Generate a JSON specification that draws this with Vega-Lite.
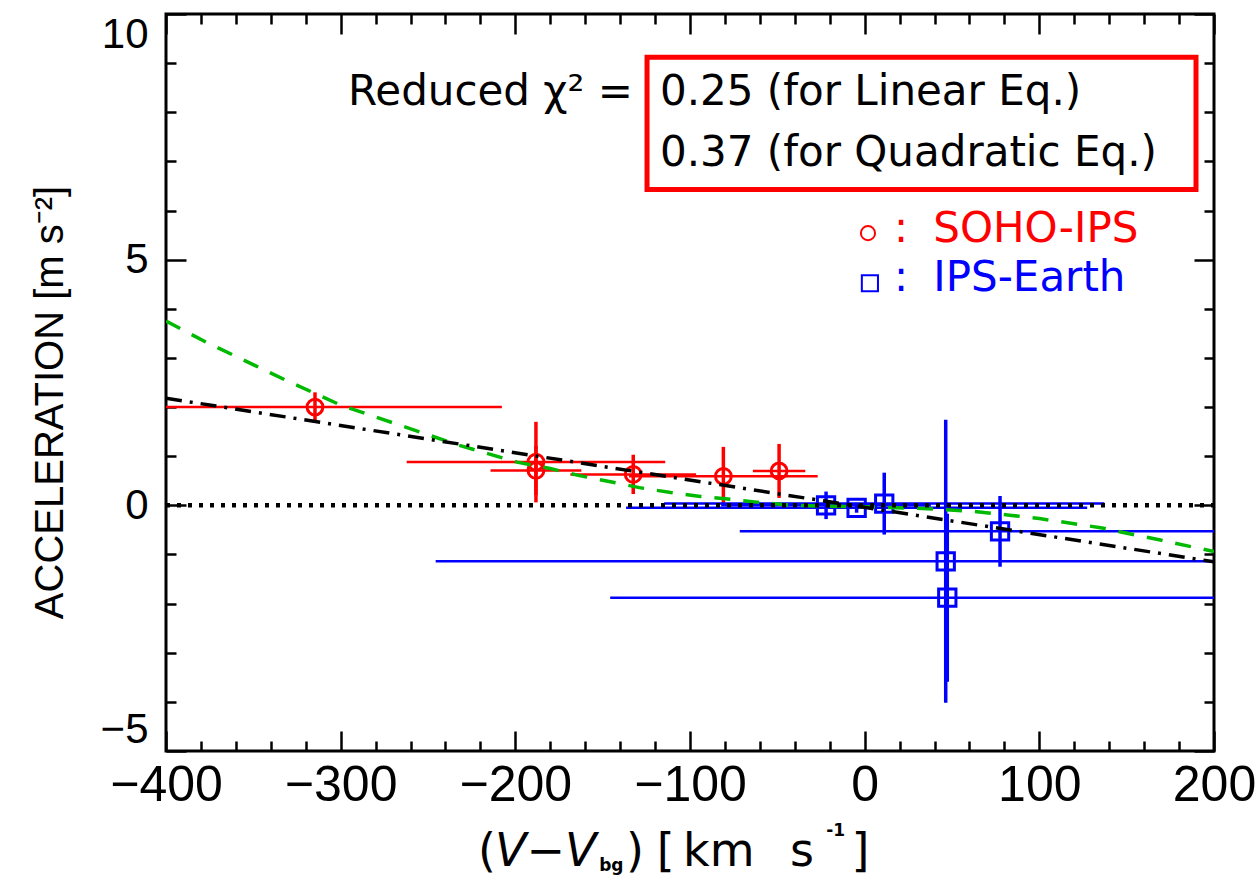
{
  "$schema": "https://vega.github.io/schema/vega-lite/v6.json",
  "width": 1048,
  "height": 737,
  "autosize": {"type": "none"},
  "padding": {"left": 166, "top": 14, "right": 42, "bottom": 127},
  "background": "white",
  "config": {
    "view": {"stroke": "black", "strokeWidth": 3},
    "axis": {"domain": false, "grid": false, "tickColor": "black", "tickWidth": 2.5, "labelColor": "black", "titleColor": "black"}
  },
  "datasets": {
    "soho": [
      {"x": -314.7, "y": 2.00, "xlo": -421.7, "xhi": -207.7, "ylo": 1.70, "yhi": 2.30},
      {"x": -188.2, "y": 0.88, "xlo": -262.2, "xhi": -114.2, "ylo": 0.06, "yhi": 1.70},
      {"x": -188.2, "y": 0.71, "xlo": -214.2, "xhi": -162.2, "ylo": 0.21, "yhi": 1.21},
      {"x": -132.5, "y": 0.63, "xlo": -168.5, "xhi": -96.5, "ylo": 0.23, "yhi": 1.03},
      {"x": -80.9, "y": 0.59, "xlo": -134.9, "xhi": -26.9, "ylo": -0.01, "yhi": 1.19},
      {"x": -49.0, "y": 0.70, "xlo": -64.0, "xhi": -34.0, "ylo": 0.15, "yhi": 1.25}
    ],
    "earth": [
      {"x": -22.1, "y": 0.00, "xlo": -82.1, "xhi": 37.9, "ylo": -0.28, "yhi": 0.28},
      {"x": -4.6, "y": -0.05, "xlo": -136.6, "xhi": 127.4, "ylo": -0.15, "yhi": 0.05},
      {"x": 11.2, "y": 0.035, "xlo": -114.8, "xhi": 137.2, "ylo": -0.595, "yhi": 0.665},
      {"x": 46.4, "y": -1.14, "xlo": -245.6, "xhi": 338.4, "ylo": -4.02, "yhi": 1.74},
      {"x": 47.3, "y": -1.88, "xlo": -145.7, "xhi": 240.3, "ylo": -3.59, "yhi": -0.17},
      {"x": 77.5, "y": -0.53, "xlo": -71.5, "xhi": 226.5, "ylo": -1.25, "yhi": 0.19}
    ],
    "zero": [{"x": -400, "y": 0}, {"x": 200, "y": 0}],
    "linear": [{"x": -400, "y": 2.18}, {"x": 200, "y": -1.15}],
    "quad": [
      {"x": -400, "y": 3.75}, {"x": -377, "y": 3.32}, {"x": -331, "y": 2.54}, {"x": -300, "y": 2.04},
      {"x": -266, "y": 1.63}, {"x": -232, "y": 1.22}, {"x": -199, "y": 0.88}, {"x": -180, "y": 0.75},
      {"x": -164, "y": 0.61}, {"x": -147, "y": 0.49}, {"x": -129, "y": 0.36}, {"x": -111, "y": 0.26},
      {"x": -94, "y": 0.18}, {"x": -76, "y": 0.12}, {"x": -59, "y": 0.055}, {"x": -42, "y": 0.0},
      {"x": -22, "y": -0.02}, {"x": 0, "y": -0.03}, {"x": 30, "y": -0.06}, {"x": 62, "y": -0.12},
      {"x": 83, "y": -0.2}, {"x": 100, "y": -0.27}, {"x": 119, "y": -0.37}, {"x": 136, "y": -0.46},
      {"x": 153, "y": -0.59}, {"x": 170, "y": -0.71}, {"x": 188, "y": -0.85}, {"x": 200, "y": -0.94}
    ],
    "box": [{"x1": -124.6, "x2": 189.7, "y1": 9.12, "y2": 6.43}],
    "annot": [
      {"x": -295.8, "y": 8.14, "t": "Reduced χ² ="},
      {"x": -117.2, "y": 8.14, "t": "0.25 (for Linear Eq.)"},
      {"x": -117.2, "y": 6.90, "t": "0.37 (for Quadratic Eq.)"}
    ],
    "legsoho": [{"x": 1.9, "y": 5.54, "cx": 20.8, "tx": 39.3, "ty": 5.36, "t": "SOHO-IPS"}],
    "legearth": [{"x": 3.0, "y": 4.52, "cx": 20.8, "tx": 39.3, "ty": 4.36, "t": "IPS-Earth"}],
    "xt_norm": [
      {"x": -221.4, "y": -7.35, "t": "("},
      {"x": -136.6, "y": -7.35, "t": ")"},
      {"x": -119.0, "y": -7.35, "t": "["},
      {"x": -104.0, "y": -7.35, "t": "km"},
      {"x": -42.7, "y": -7.35, "t": "s"},
      {"x": -7.5, "y": -7.35, "t": "]"}
    ],
    "xt_ital": [{"x": -211.6, "y": -7.35, "t": "V−V"}],
    "xt_small": [
      {"x": -152.0, "y": -7.45, "t": "bg"},
      {"x": -22.0, "y": -6.72, "t": "-1"}
    ]
  },
  "resolve": {"axis": {"x": "independent", "y": "independent"}},
  "layer": [
    {
      "data": {"name": "soho"},
      "mark": {"type": "rule", "color": "#ff0000", "strokeWidth": 2.5, "clip": true},
      "encoding": {
        "x": {"field": "xlo", "type": "quantitative", "scale": {"domain": [-400, 200], "nice": false, "zero": false}, "axis": null},
        "x2": {"field": "xhi"},
        "y": {"field": "y", "type": "quantitative", "scale": {"domain": [-5, 10], "nice": false, "zero": false}, "axis": null}
      }
    },
    {
      "data": {"name": "soho"},
      "mark": {"type": "rule", "color": "#ff0000", "strokeWidth": 3.5, "clip": true},
      "encoding": {
        "x": {"field": "x", "type": "quantitative", "axis": null},
        "y": {"field": "ylo", "type": "quantitative", "axis": null},
        "y2": {"field": "yhi"}
      }
    },
    {
      "data": {"name": "soho"},
      "mark": {"type": "point", "shape": "circle", "filled": false, "color": "#ff0000", "strokeWidth": 3, "size": 250, "opacity": 1, "clip": true},
      "encoding": {
        "x": {"field": "x", "type": "quantitative", "axis": null},
        "y": {"field": "y", "type": "quantitative", "axis": null}
      }
    },
    {
      "data": {"name": "earth"},
      "mark": {"type": "rule", "color": "#0000ff", "strokeWidth": 2.5, "clip": true},
      "encoding": {
        "x": {"field": "xlo", "type": "quantitative", "axis": null},
        "x2": {"field": "xhi"},
        "y": {"field": "y", "type": "quantitative", "axis": null}
      }
    },
    {
      "data": {"name": "earth"},
      "mark": {"type": "rule", "color": "#0000ff", "strokeWidth": 3.5, "clip": true},
      "encoding": {
        "x": {"field": "x", "type": "quantitative", "axis": null},
        "y": {"field": "ylo", "type": "quantitative", "axis": null},
        "y2": {"field": "yhi"}
      }
    },
    {
      "data": {"name": "earth"},
      "mark": {"type": "point", "shape": "square", "filled": false, "color": "#0000ff", "strokeWidth": 3, "size": 300, "opacity": 1, "clip": true},
      "encoding": {
        "x": {"field": "x", "type": "quantitative", "axis": null},
        "y": {"field": "y", "type": "quantitative", "axis": null}
      }
    },
    {
      "data": {"name": "quad"},
      "mark": {"type": "line", "color": "#00b900", "strokeWidth": 3.5, "strokeDash": [16, 13], "clip": true},
      "encoding": {
        "x": {"field": "x", "type": "quantitative", "axis": null},
        "y": {"field": "y", "type": "quantitative", "axis": null}
      }
    },
    {
      "data": {"name": "linear"},
      "mark": {"type": "line", "color": "black", "strokeWidth": 3.5, "strokeDash": [16, 8, 3, 8], "clip": true},
      "encoding": {
        "x": {"field": "x", "type": "quantitative",
          "axis": {"orient": "top", "title": null, "labels": false,
            "values": [-400,-380,-360,-340,-320,-300,-280,-260,-240,-220,-200,-180,-160,-140,-120,-100,-80,-60,-40,-20,0,20,40,60,80,100,120,140,160,180,200],
            "tickSize": {"condition": {"test": "datum.value % 100 === 0", "value": -20}, "value": -10}}},
        "y": {"field": "y", "type": "quantitative",
          "axis": {"orient": "right", "title": null, "labels": false,
            "values": [-5,-4,-3,-2,-1,0,1,2,3,4,5,6,7,8,9,10],
            "tickSize": {"condition": {"test": "datum.value % 5 === 0", "value": -20}, "value": -10}}}
      }
    },
    {
      "data": {"name": "zero"},
      "mark": {"type": "line", "color": "black", "strokeWidth": 4.5, "strokeDash": [4, 7], "clip": true},
      "encoding": {
        "x": {"field": "x", "type": "quantitative",
          "axis": {"orient": "bottom", "title": null,
            "values": [-400,-380,-360,-340,-320,-300,-280,-260,-240,-220,-200,-180,-160,-140,-120,-100,-80,-60,-40,-20,0,20,40,60,80,100,120,140,160,180,200],
            "tickSize": {"condition": {"test": "datum.value % 100 === 0", "value": -20}, "value": -10},
            "labelExpr": "datum.value % 100 === 0 ? datum.label : ''",
            "labelFont": "Liberation Sans", "labelFontSize": 50, "labelPadding": 29,
            "labelFlush": false, "labelOverlap": false, "labelBound": false}},
        "y": {"field": "y", "type": "quantitative",
          "axis": {"orient": "left",
            "values": [-5,-4,-3,-2,-1,0,1,2,3,4,5,6,7,8,9,10],
            "tickSize": {"condition": {"test": "datum.value % 5 === 0", "value": -20}, "value": -10},
            "labelExpr": "datum.value % 5 === 0 ? datum.label : ''",
            "labelFont": "Liberation Sans", "labelFontSize": 42, "labelPadding": 38,
            "labelFlush": true, "labelOverlap": false, "labelBound": false,
            "title": "ACCELERATION [m s⁻²]", "titleFont": "Liberation Sans", "titleFontSize": 40,
            "titleFontWeight": "normal", "titleAngle": -90, "titleX": -104, "titleY": 388,
            "titleAlign": "center", "titleBaseline": "alphabetic"}}
      }
    },
    {
      "data": {"name": "box"},
      "mark": {"type": "rect", "fill": null, "fillOpacity": 0, "stroke": "#ff0000", "strokeWidth": 5},
      "encoding": {
        "x": {"field": "x1", "type": "quantitative", "axis": null},
        "x2": {"field": "x2"},
        "y": {"field": "y1", "type": "quantitative", "axis": null},
        "y2": {"field": "y2"}
      }
    },
    {
      "data": {"name": "annot"},
      "mark": {"type": "text", "align": "left", "baseline": "alphabetic", "font": "DejaVu Sans", "fontSize": 42, "color": "black"},
      "encoding": {
        "x": {"field": "x", "type": "quantitative", "axis": null},
        "y": {"field": "y", "type": "quantitative", "axis": null},
        "text": {"field": "t"}
      }
    },
    {
      "data": {"name": "legsoho"},
      "mark": {"type": "point", "shape": "circle", "filled": false, "color": "#ff0000", "strokeWidth": 2, "size": 200, "opacity": 1},
      "encoding": {
        "x": {"field": "x", "type": "quantitative", "axis": null},
        "y": {"field": "y", "type": "quantitative", "axis": null}
      }
    },
    {
      "data": {"name": "legearth"},
      "mark": {"type": "point", "shape": "square", "filled": false, "color": "#0000ff", "strokeWidth": 2, "size": 260, "opacity": 1},
      "encoding": {
        "x": {"field": "x", "type": "quantitative", "axis": null},
        "y": {"field": "y", "type": "quantitative", "axis": null}
      }
    },
    {
      "data": {"name": "legsoho"},
      "mark": {"type": "text", "align": "center", "baseline": "alphabetic", "font": "DejaVu Sans", "fontSize": 42, "color": "#ff0000"},
      "encoding": {
        "x": {"field": "cx", "type": "quantitative", "axis": null},
        "y": {"field": "ty", "type": "quantitative", "axis": null},
        "text": {"value": ":"}
      }
    },
    {
      "data": {"name": "legsoho"},
      "mark": {"type": "text", "align": "left", "baseline": "alphabetic", "font": "DejaVu Sans", "fontSize": 42, "color": "#ff0000"},
      "encoding": {
        "x": {"field": "tx", "type": "quantitative", "axis": null},
        "y": {"field": "ty", "type": "quantitative", "axis": null},
        "text": {"field": "t"}
      }
    },
    {
      "data": {"name": "legearth"},
      "mark": {"type": "text", "align": "center", "baseline": "alphabetic", "font": "DejaVu Sans", "fontSize": 42, "color": "#0000ff"},
      "encoding": {
        "x": {"field": "cx", "type": "quantitative", "axis": null},
        "y": {"field": "ty", "type": "quantitative", "axis": null},
        "text": {"value": ":"}
      }
    },
    {
      "data": {"name": "legearth"},
      "mark": {"type": "text", "align": "left", "baseline": "alphabetic", "font": "DejaVu Sans", "fontSize": 42, "color": "#0000ff"},
      "encoding": {
        "x": {"field": "tx", "type": "quantitative", "axis": null},
        "y": {"field": "ty", "type": "quantitative", "axis": null},
        "text": {"field": "t"}
      }
    },
    {
      "data": {"name": "xt_norm"},
      "mark": {"type": "text", "align": "left", "baseline": "alphabetic", "font": "DejaVu Sans", "fontSize": 46, "color": "black"},
      "encoding": {
        "x": {"field": "x", "type": "quantitative", "axis": null},
        "y": {"field": "y", "type": "quantitative", "axis": null},
        "text": {"field": "t"}
      }
    },
    {
      "data": {"name": "xt_ital"},
      "mark": {"type": "text", "align": "left", "baseline": "alphabetic", "font": "DejaVu Sans", "fontSize": 46, "fontStyle": "italic", "color": "black"},
      "encoding": {
        "x": {"field": "x", "type": "quantitative", "axis": null},
        "y": {"field": "y", "type": "quantitative", "axis": null},
        "text": {"field": "t"}
      }
    },
    {
      "data": {"name": "xt_small"},
      "mark": {"type": "text", "align": "left", "baseline": "alphabetic", "font": "DejaVu Sans", "fontSize": 17, "fontWeight": "bold", "color": "black"},
      "encoding": {
        "x": {"field": "x", "type": "quantitative", "axis": null},
        "y": {"field": "y", "type": "quantitative", "axis": null},
        "text": {"field": "t"}
      }
    }
  ]
}
